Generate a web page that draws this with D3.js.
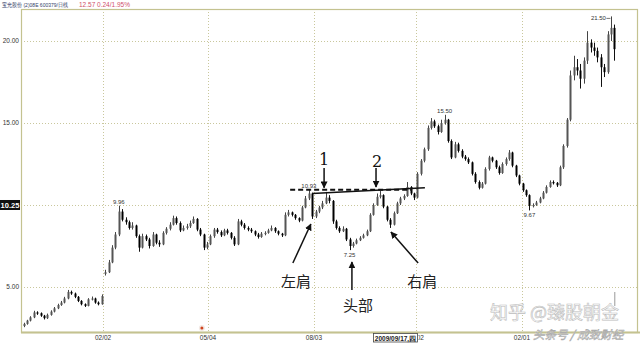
<!DOCTYPE html>
<html><head><meta charset="utf-8">
<script src="https://cdn.jsdelivr.net/npm/d3@7"></script>
<style>body{margin:0;background:#fff}svg{display:block}</style>
</head><body><svg id="c" width="640" height="343"></svg>
<script>
// ---- data (one candle per ~2 trading days) ----
const open=[2.62,2.75,2.95,3.15,3.45,3.40,3.25,3.10,3.30,3.50,3.70,3.90,4.05,4.30,4.70,4.60,4.40,4.15,3.95,3.85,4.25,4.30,4.05,3.95,
5.80,5.90,6.50,7.40,8.20,9.60,9.10,8.95,8.60,8.75,8.10,7.40,8.10,7.90,7.50,8.20,7.70,7.60,8.30,8.55,8.80,9.20,8.90,8.45,8.60,8.70,
8.90,9.15,8.50,8.20,7.40,7.60,8.10,8.50,8.35,8.15,8.45,8.30,8.00,7.60,9.00,8.80,8.60,8.50,8.40,8.20,8.05,8.25,8.30,8.45,8.60,8.40,8.25,
8.15,9.40,9.55,9.40,9.20,9.05,9.85,10.40,10.70,9.30,9.60,9.85,10.10,10.45,10.25,9.00,8.60,8.40,8.55,7.90,7.50,7.65,7.85,8.00,8.15,
8.40,9.40,10.00,10.50,10.60,9.90,9.10,8.80,9.50,10.10,10.40,10.55,11.10,10.70,10.45,11.90,12.70,13.40,14.70,15.10,14.80,14.45,15.00,
15.20,13.90,12.90,13.70,13.30,12.95,12.80,12.60,11.90,11.40,11.05,11.30,12.20,12.90,12.70,12.30,11.95,12.50,12.80,13.20,12.40,11.80,11.30,10.90,10.60,
9.95,10.00,10.15,10.40,10.75,11.10,11.40,11.35,11.20,12.30,13.60,15.20,17.90,18.40,18.20,17.70,18.80,19.90,19.60,19.40,19.00,18.40,18.10,20.40,20.80];
const close=[2.75,2.95,3.15,3.45,3.40,3.25,3.10,3.30,3.50,3.70,3.90,4.05,4.30,4.70,4.60,4.40,4.15,3.95,3.85,4.25,4.30,4.05,3.95,4.45,
5.90,6.50,7.40,8.20,9.60,9.10,8.95,8.60,8.75,8.10,7.40,8.10,7.90,7.50,8.20,7.70,7.60,8.30,8.55,8.80,9.20,8.90,8.45,8.60,8.70,8.90,
9.15,8.50,8.20,7.40,7.60,8.10,8.50,8.35,8.15,8.45,8.30,8.00,7.60,9.00,8.80,8.60,8.50,8.40,8.20,8.05,8.25,8.30,8.45,8.60,8.40,8.25,8.15,
9.40,9.55,9.40,9.20,9.05,9.85,10.40,10.70,9.30,9.60,9.85,10.10,10.45,10.25,9.00,8.60,8.40,8.55,7.90,7.50,7.65,7.85,8.00,8.15,8.40,
9.40,10.00,10.50,10.60,9.90,9.10,8.80,9.50,10.10,10.40,10.55,11.10,10.70,10.45,11.90,12.70,13.40,14.70,15.10,14.80,14.45,15.00,15.20,
13.90,12.90,13.70,13.30,12.95,12.80,12.60,11.90,11.40,11.05,11.30,12.20,12.90,12.70,12.30,11.95,12.50,12.80,13.20,12.40,11.80,11.30,10.90,10.60,9.95,
10.00,10.15,10.40,10.75,11.10,11.40,11.35,11.20,12.30,13.60,15.20,17.90,18.40,18.20,17.70,18.80,19.90,19.60,19.40,19.00,18.40,18.10,20.40,20.80,19.50];
const high=[2.82,3.00,3.22,3.55,3.52,3.45,3.30,3.38,3.58,3.78,3.98,4.15,4.40,4.82,4.78,4.66,4.45,4.20,4.00,4.32,4.42,4.35,4.12,4.55,
6.05,6.65,7.55,8.35,9.96,9.75,9.25,9.05,8.95,8.80,8.20,8.25,8.20,8.00,8.35,8.25,7.85,8.40,8.65,8.95,9.35,9.30,9.00,8.75,8.85,9.05,
9.30,9.20,8.60,8.25,7.75,8.20,8.60,8.60,8.45,8.55,8.55,8.35,8.10,9.15,9.10,8.90,8.70,8.60,8.45,8.30,8.35,8.40,8.55,8.75,8.65,8.45,8.30,
9.55,9.70,9.60,9.45,9.25,9.95,10.55,10.93,10.75,9.70,9.95,10.25,10.80,10.60,10.30,9.10,8.70,8.70,8.60,8.00,7.75,7.95,8.10,8.25,8.50,
9.50,10.10,10.70,10.85,10.65,9.95,9.20,9.60,10.20,10.50,10.65,11.40,11.15,10.75,12.00,12.80,13.50,14.85,15.30,15.20,14.90,15.20,15.50,
15.25,14.00,13.85,13.80,13.40,13.05,12.90,12.65,12.00,11.50,11.40,12.30,13.00,12.95,12.75,12.40,12.60,12.90,13.35,13.25,12.45,11.85,11.35,10.95,10.65,
10.10,10.25,10.50,10.85,11.20,11.50,11.50,11.40,12.40,13.70,15.30,18.20,19.10,18.90,18.60,19.00,20.60,20.10,19.90,19.60,19.20,18.60,20.60,21.50,21.00];
const low=[2.55,2.70,2.90,3.10,3.30,3.18,3.02,3.05,3.25,3.45,3.65,3.85,4.00,4.25,4.52,4.32,4.08,3.88,3.78,3.82,4.18,3.98,3.88,3.92,
5.70,5.85,6.45,7.30,8.10,9.00,8.80,8.50,8.50,8.00,7.15,7.35,7.80,7.35,7.45,7.60,7.45,7.55,8.20,8.45,8.75,8.80,8.35,8.40,8.50,8.60,
8.85,8.40,8.10,7.25,7.30,7.55,8.00,8.25,8.05,8.10,8.20,7.90,7.50,7.55,8.70,8.50,8.40,8.30,8.10,7.95,8.00,8.15,8.25,8.40,8.30,8.15,8.05,
8.10,9.30,9.30,9.10,8.95,9.00,9.80,10.30,9.15,9.20,9.50,9.75,10.05,10.10,8.85,8.50,8.30,8.35,7.80,7.25,7.40,7.60,7.80,7.95,8.10,
8.35,9.35,9.95,10.40,9.80,9.00,8.60,8.75,9.45,10.00,10.30,10.50,10.60,10.30,10.40,11.80,12.60,13.30,14.60,14.70,14.30,14.40,14.90,
13.80,12.80,12.85,13.20,12.85,12.70,12.50,11.80,11.30,10.95,11.00,11.25,12.10,12.60,12.20,11.85,11.90,12.40,12.70,12.30,11.70,11.20,10.80,10.50,9.67,
9.85,9.95,10.10,10.35,10.70,11.05,11.25,11.10,11.15,12.20,13.50,15.10,17.60,17.90,17.10,17.40,18.60,19.30,19.10,18.70,17.20,17.80,18.00,20.00,18.80];

const xTickPos=[23.4,54.3,85.5,115.6,146.8];
const xTickLabels=["02/02","05/04","08/03","11/02","02/01"];
const yTicks=[20,15,10,5];
const yTickLabels=["20.00","15.00","","5.00"];
const lastPrice=10.25, lastPriceLevel=10;

const extremeIdx=[28,84,96,124,149,173];
const extremeText=["9.96","10.93","7.25","15.50","9.67","21.50"];
const extremeKind=["hi","hi","lo","hi","lo","left"];

const dashedNeck=[[78.5,10.93],[114.4,10.93]];
const solidNeck=[[85,10.70],[118.2,11.05]];
const arrows=[ // [fromIdx, fromPrice, toIdx, toPrice]
 [88.5,12.26,88.5,11.05],[103.8,12.26,103.8,11.1],
 [79.3,6.46,84.6,8.84],[96.7,4.82,96.7,6.52],[116.2,6.46,108.2,8.35]];
const numLabels=[["1",88.5,12.74],["2",104.1,12.62]];
const shapeLabels=[["左肩",80.2,5.24],["头部",98.5,3.78],["右肩",117.4,5.24]];

// ---- drawing ----
const svg=d3.select("#c");
const N=close.length;
const L=21,R=637,T=9,B=332;
const x=d3.scaleLinear().domain([-0.5,N-0.5]).range([22,616]);
const y=d3.scaleLinear().domain([2.256,21.951]).range([B,T]);
const gridC="#c9c79c", frameC="#c4c290";

// header
svg.append("text").attr("x",2).attr("y",7).attr("font-family","Liberation Sans, Arial").attr("font-size",6)
 .attr("textLength",66).attr("lengthAdjust","spacingAndGlyphs")
 .attr("fill","#33406a").text("宝光股份 (2)08E 600379/日线");
svg.append("text").attr("x",79).attr("y",7).attr("font-family","Liberation Sans, Arial").attr("font-size",6.5)
 .attr("fill","#d0506a").text("12.57   0.24/1.95%");

// grid
const g=svg.append("g");
g.selectAll("line.hy").data(yTicks).join("line")
 .attr("x1",L).attr("x2",R).attr("y1",d=>Math.round(y(d))+0.5).attr("y2",d=>Math.round(y(d))+0.5)
 .attr("stroke",gridC).attr("stroke-dasharray","1,2");
g.selectAll("line.vx").data(xTickPos).join("line")
 .attr("class","vx").attr("y1",T).attr("y2",B).attr("x1",d=>Math.round(x(d))+0.5).attr("x2",d=>Math.round(x(d))+0.5)
 .attr("stroke",gridC).attr("stroke-dasharray","1,2");

// frame
svg.append("rect").attr("x",L+0.5).attr("y",T+0.5).attr("width",R-L).attr("height",B-T)
 .attr("fill","none").attr("stroke",frameC).attr("stroke-width",1.2);
svg.append("line").attr("x1",L).attr("x2",640).attr("y1",B+0.5).attr("y2",B+0.5).attr("stroke",frameC).attr("stroke-width",2);

// y labels
svg.selectAll("text.yl").data(yTicks).join("text").attr("class","yl")
 .attr("x",19).attr("y",d=>y(d)+2.3).attr("text-anchor","end")
 .attr("font-family","Liberation Sans, Arial").attr("font-size",6.5).attr("fill","#333")
 .text((d,i)=>yTickLabels[i]);
svg.append("rect").attr("x",0).attr("y",y(lastPriceLevel)-5).attr("width",20).attr("height",10).attr("fill","#111");
svg.append("text").attr("x",10).attr("y",y(lastPriceLevel)+2.6).attr("text-anchor","middle")
 .attr("font-family","Liberation Sans, Arial").attr("font-weight","bold").attr("font-size",7.5).attr("fill","#fff").text(lastPrice.toFixed(2));

// x labels (the 11/02 one is partly hidden by the cursor date box)
const defs=svg.append("defs");
defs.append("clipPath").attr("id","xclip").append("rect").attr("x",418.5).attr("y",330).attr("width",30).attr("height",13);
svg.selectAll("text.xl").data(xTickPos).join("text").attr("class","xl")
 .attr("x",d=>x(d)).attr("y",340).attr("text-anchor","middle")
 .attr("font-family","Liberation Sans, Arial").attr("font-size",6.5).attr("fill","#333")
 .attr("clip-path",(d,i)=>i===3?"url(#xclip)":null)
 .text((d,i)=>xTickLabels[i]);
// cursor date box
const cb=svg.append("g");
cb.append("rect").attr("x",373.5).attr("y",333.5).attr("width",44).attr("height",8.5).attr("fill","#fff").attr("stroke","#444").attr("stroke-width",0.8);
cb.append("text").attr("x",395.5).attr("y",340.5).attr("text-anchor","middle").attr("font-family","Liberation Sans, Arial")
 .attr("font-weight","bold").attr("font-size",6.5).attr("fill","#222").text("2009/09/17,四");

// candles
const idx=d3.range(N);
const cg=svg.append("g");
cg.selectAll("line.w").data(idx).join("line")
 .attr("x1",i=>Math.round(x(i))+0.5).attr("x2",i=>Math.round(x(i))+0.5)
 .attr("y1",i=>y(high[i])).attr("y2",i=>y(low[i]))
 .attr("stroke",i=>close[i]>=open[i]?"#444":"#111").attr("stroke-width",1);
cg.selectAll("rect.b").data(idx).join("rect")
 .attr("x",i=>Math.round(x(i))-0.5).attr("width",2)
 .attr("y",i=>y(Math.max(open[i],close[i])))
 .attr("height",i=>Math.max(1.2,Math.abs(y(open[i])-y(close[i]))))
 .attr("fill",i=>close[i]>=open[i]?"#555":"#000");

// extreme labels
svg.selectAll("text.ex").data(extremeIdx).join("text").attr("class","ex")
 .attr("x",(d,k)=>extremeKind[k]==="left"?x(d)-5:x(d))
 .attr("y",(d,k)=>extremeKind[k]==="hi"?y(high[d])-2:extremeKind[k]==="lo"?y(low[d])+7:y(high[d])+4)
 .attr("text-anchor",(d,k)=>extremeKind[k]==="left"?"end":"middle")
 .attr("font-family","Liberation Sans, Arial").attr("font-size",6).attr("fill","#333")
 .text((d,k)=>extremeText[k]);
svg.append("line").attr("x1",x(173)-4.5).attr("x2",x(173)-0.5).attr("y1",y(high[173])+2).attr("y2",y(high[173])+2).attr("stroke","#555").attr("stroke-width",0.8);

// red marker dot
svg.append("circle").attr("cx",x(52.5)).attr("cy",328).attr("r",3).attr("fill","#f3e9e4");
svg.append("circle").attr("cx",x(52.5)).attr("cy",328).attr("r",1.5).attr("fill","#d0441f");
// small gray mark near right end
svg.append("line").attr("x1",x(174)+0.5).attr("x2",x(174)+0.5).attr("y1",292).attr("y2",306).attr("stroke","#999");

// necklines
const ln=d3.line().x(d=>x(d[0])).y(d=>y(d[1]));
svg.append("path").attr("d",ln(dashedNeck)).attr("stroke","#111").attr("stroke-width",2).attr("stroke-dasharray","5,3").attr("fill","none");
svg.append("path").attr("d",ln(solidNeck)).attr("stroke","#111").attr("stroke-width",1.4).attr("fill","none");

// arrows
defs.append("marker").attr("id","ah").attr("viewBox","0 0 10 10").attr("refX",9).attr("refY",5)
 .attr("markerWidth",7).attr("markerHeight",7).attr("markerUnits","userSpaceOnUse").attr("orient","auto")
 .append("path").attr("d","M0,0L10,5L0,10Z").attr("fill","#111");
svg.selectAll("line.ar").data(arrows).join("line").attr("class","ar")
 .attr("x1",d=>x(d[0])).attr("y1",d=>y(d[1])).attr("x2",d=>x(d[2])).attr("y2",d=>y(d[3]))
 .attr("stroke","#111").attr("stroke-width",1.5).attr("marker-end","url(#ah)");

svg.selectAll("text.nl").data(numLabels).join("text").attr("class","nl")
 .attr("x",d=>x(d[1])).attr("y",d=>y(d[2])).attr("text-anchor","middle").attr("dominant-baseline","middle")
 .attr("font-family","DejaVu Serif, serif").attr("font-size",16).attr("fill","#111").text(d=>d[0]);
svg.selectAll("text.sl").data(shapeLabels).join("text").attr("class","sl")
 .attr("x",d=>x(d[1])).attr("y",d=>y(d[2])).attr("text-anchor","middle").attr("dominant-baseline","middle")
 .attr("font-family","Noto Sans CJK SC").attr("font-size",15).attr("fill","#222").text(d=>d[0]);

// watermark
svg.append("text").attr("x",490).attr("y",318.5).attr("font-family","Noto Sans CJK SC").attr("font-size",18)
 .attr("fill","#fff").attr("stroke","#bcbcbc").attr("stroke-width",0.6).text("知乎 @臻股朝金");
svg.append("text").attr("x",533).attr("y",339).attr("font-family","Noto Sans CJK SC").attr("font-size",11.5)
 .attr("font-style","italic").attr("fill","#fff").attr("stroke","#acacac").attr("stroke-width",0.6).text("头条号 / 成致财经");
</script></body></html>
